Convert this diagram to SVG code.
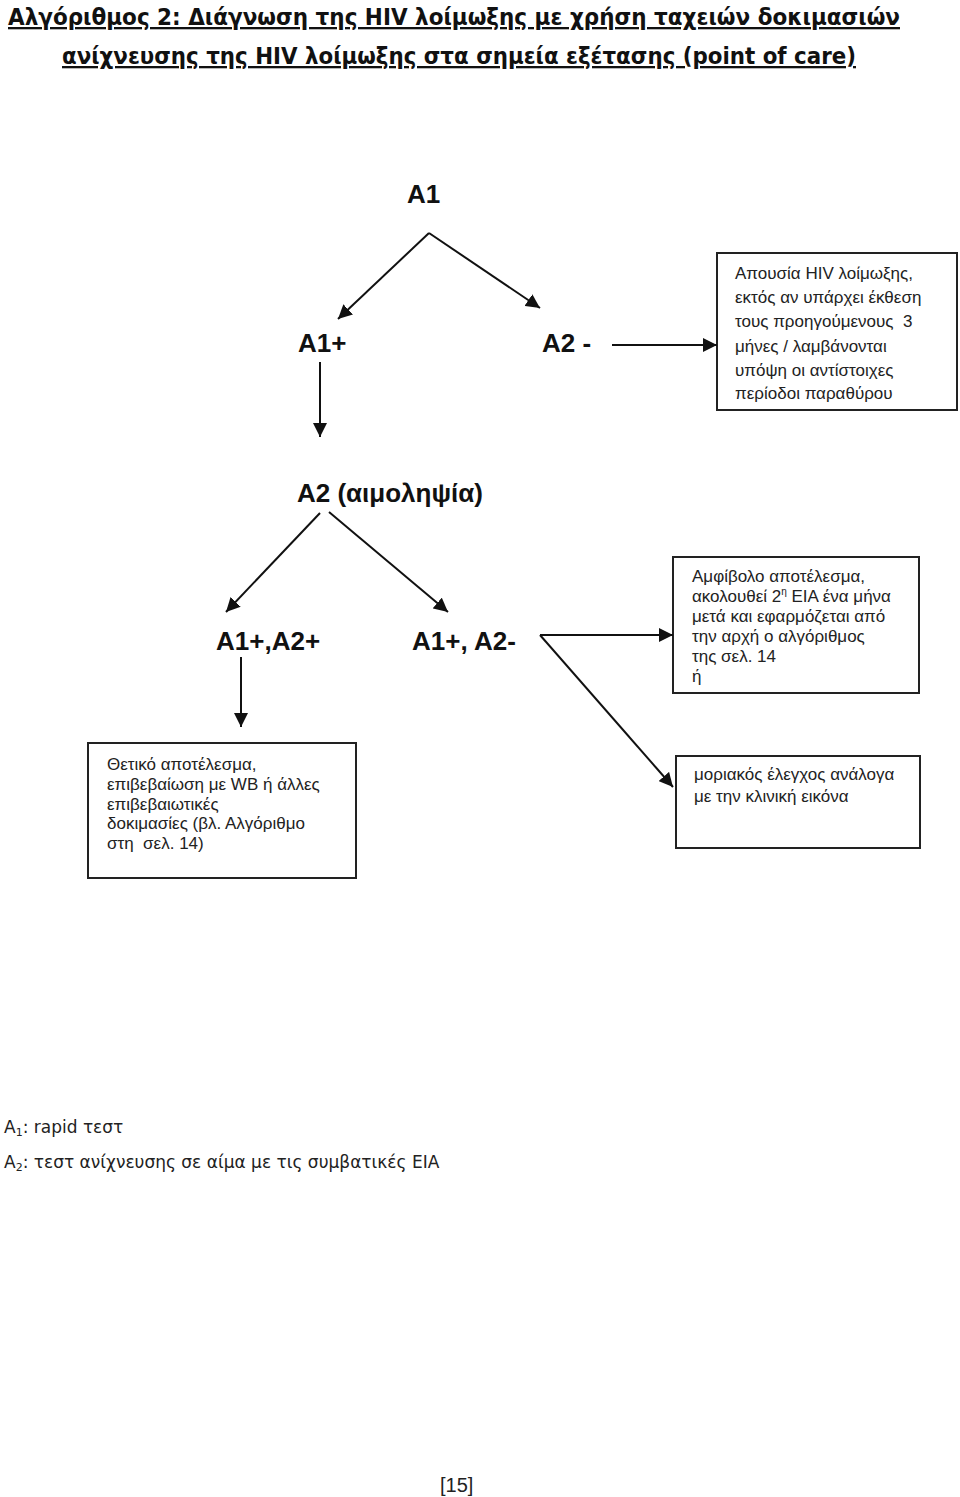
<svg xmlns="http://www.w3.org/2000/svg" width="960" height="1497" viewBox="0 0 960 1497">
<style>
.title{font-family:"DejaVu Sans",sans-serif;font-weight:bold;font-size:23px;fill:#111;text-decoration:underline}
.lbl{font-family:"Liberation Sans",Arial,sans-serif;font-weight:bold;font-size:26px;fill:#111}
.box{fill:#fff;stroke:#222;stroke-width:2}
.bt{font-family:"Liberation Sans",Arial,sans-serif;font-size:17px;fill:#222;white-space:pre}
.leg{font-family:"DejaVu Sans",sans-serif;font-size:17px;fill:#222}
.con line{stroke:#111;stroke-width:2;fill:none}
</style>
<defs>
<marker id="ah" markerUnits="userSpaceOnUse" markerWidth="16" markerHeight="14" refX="14" refY="7" orient="auto">
<path d="M0,0 L14,7 L0,14 Z" fill="#111"/>
</marker>
</defs>
<rect width="960" height="1497" fill="#fff"/>
<g id="title">
<text class="title" x="8" y="25" textLength="892" lengthAdjust="spacingAndGlyphs">Αλγόριθμος 2: Διάγνωση της HIV λοίμωξης με χρήση ταχειών δοκιμασιών</text>
<text class="title" x="62" y="64" textLength="794" lengthAdjust="spacingAndGlyphs">ανίχνευσης της HIV λοίμωξης στα σημεία εξέτασης (point of care)</text>
</g>
<g id="n-a1"><text class="lbl" x="407" y="203">Α1</text></g>
<g id="n-a1plus"><text class="lbl" x="298" y="352">Α1+</text></g>
<g id="n-a2minus"><text class="lbl" x="542" y="352">Α2 -</text></g>
<g id="n-absent">
<rect class="box" x="717" y="253" width="240" height="157"/>
<text class="bt" x="735" y="279">Απουσία HIV λοίμωξης,</text>
<text class="bt" x="735" y="303">εκτός αν υπάρχει έκθεση</text>
<text class="bt" x="735" y="327">τους προηγούμενους  3</text>
<text class="bt" x="735" y="352">μήνες / λαμβάνονται</text>
<text class="bt" x="735" y="376">υπόψη οι αντίστοιχες</text>
<text class="bt" x="735" y="399">περίοδοι παραθύρου</text>
</g>
<g id="n-a2"><text class="lbl" x="297" y="502">Α2 (αιμοληψία)</text></g>
<g id="n-pp"><text class="lbl" x="216" y="650">Α1+,Α2+</text></g>
<g id="n-pm"><text class="lbl" x="412" y="650">Α1+, Α2-</text></g>
<g id="n-ambig">
<rect class="box" x="673" y="557" width="246" height="136"/>
<text class="bt" x="692" y="582">Αμφίβολο αποτέλεσμα,</text>
<text class="bt" x="692" y="602">ακολουθεί 2<tspan font-size="10" dy="-7">η</tspan><tspan dy="7"> ΕΙΑ ένα μήνα</tspan></text>
<text class="bt" x="692" y="622">μετά και εφαρμόζεται από</text>
<text class="bt" x="692" y="642">την αρχή ο αλγόριθμος</text>
<text class="bt" x="692" y="662">της σελ. 14</text>
<text class="bt" x="692" y="682">ή</text>
</g>
<g id="n-positive">
<rect class="box" x="88" y="743" width="268" height="135"/>
<text class="bt" x="107" y="770">Θετικό αποτέλεσμα,</text>
<text class="bt" x="107" y="790">επιβεβαίωση με WB ή άλλες</text>
<text class="bt" x="107" y="810">επιβεβαιωτικές</text>
<text class="bt" x="107" y="829">δοκιμασίες (βλ. Αλγόριθμο</text>
<text class="bt" x="107" y="849">στη  σελ. 14)</text>
</g>
<g id="n-molecular">
<rect class="box" x="676" y="756" width="244" height="92"/>
<text class="bt" x="694" y="780">μοριακός έλεγχος ανάλογα</text>
<text class="bt" x="694" y="802">με την κλινική εικόνα</text>
</g>
<g id="connectors" class="con">
<line x1="429" y1="233" x2="338" y2="319" marker-end="url(#ah)"/>
<line x1="429" y1="233" x2="540" y2="308" marker-end="url(#ah)"/>
<line x1="612" y1="345" x2="717" y2="345" marker-end="url(#ah)"/>
<line x1="320" y1="362" x2="320" y2="437" marker-end="url(#ah)"/>
<line x1="320" y1="513" x2="226" y2="612" marker-end="url(#ah)"/>
<line x1="329" y1="512" x2="448" y2="612" marker-end="url(#ah)"/>
<line x1="241" y1="657" x2="241" y2="727" marker-end="url(#ah)"/>
<line x1="540" y1="635" x2="673" y2="635" marker-end="url(#ah)"/>
<line x1="540" y1="635" x2="673" y2="787" marker-end="url(#ah)"/>
</g>
<g id="legend">
<text class="leg" x="4" y="1133">Α<tspan font-size="11" dy="3">1</tspan><tspan dy="-3">: rapid τεστ</tspan></text>
<text class="leg" x="4" y="1168">Α<tspan font-size="11" dy="3">2</tspan><tspan dy="-3">: τεστ ανίχνευσης σε αίμα με τις συμβατικές ΕΙΑ</tspan></text>
</g>
<g id="page"><text x="440" y="1492" font-family="Liberation Sans, Arial, sans-serif" font-size="20" fill="#222">[15]</text></g>
</svg>
